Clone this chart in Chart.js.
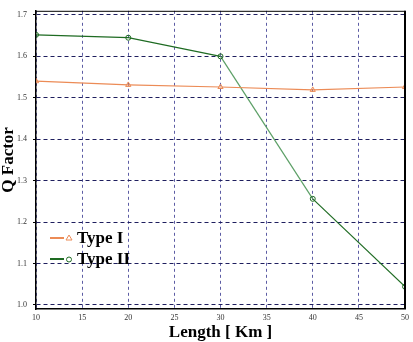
<!DOCTYPE html>
<html>
<head>
<meta charset="utf-8">
<script src="https://cdn.jsdelivr.net/npm/chart.js@4/dist/chart.umd.min.js"></script>
<style>
  html, body { margin: 0; padding: 0; background: #fff; }
  #wrap { width: 413px; height: 342px; }
</style>
</head>
<body>
<div id="wrap"><canvas id="c" width="413" height="342"></canvas></div>
<script>
// data
const lengths = [10, 20, 30, 40, 50];
const typeI = [1.540, 1.531, 1.526, 1.519, 1.526];
const typeII = [1.652, 1.645, 1.600, 1.256, 1.044];
const seriesNames = ['Type I', 'Type II'];
const yTicks = [1.0, 1.1, 1.2, 1.3, 1.4, 1.5, 1.6, 1.7];
const xTicks = [10, 15, 20, 25, 30, 35, 40, 45, 50];

const orange = '#ec8b56';
const green = '#1e6b22';
const greenLight = '#5c9f66';

// frame on top and right, legend inside the plot
const framePlugin = {
  id: 'frame',
  afterDraw(chart) {
    const { ctx, chartArea: a } = chart;
    ctx.save();
    ctx.strokeStyle = '#000';
    ctx.lineWidth = 1;
    ctx.beginPath();
    ctx.moveTo(a.left, a.top + 0.5);
    ctx.lineTo(a.right, a.top + 0.5);
    ctx.stroke();
    ctx.lineWidth = 2;
    ctx.beginPath();
    ctx.moveTo(a.right, a.top);
    ctx.lineTo(a.right, a.bottom);
    ctx.stroke();

    // legend
    chart.data.datasets.forEach((ds, i) => {
      const y = 238 + i * 21;
      ctx.lineWidth = 2;
      ctx.strokeStyle = ds.borderColor;
      ctx.beginPath();
      ctx.moveTo(50, y);
      ctx.lineTo(64, y);
      ctx.stroke();
      ctx.lineWidth = 1;
      ctx.beginPath();
      if (ds.pointStyle === 'triangle') {
        ctx.moveTo(69, y - 3);
        ctx.lineTo(72, y + 2);
        ctx.lineTo(66, y + 2);
        ctx.closePath();
      } else {
        ctx.arc(69, y + 0.5, 2.5, 0, Math.PI * 2);
      }
      ctx.stroke();
      ctx.fillStyle = '#000';
      ctx.font = 'bold 17px "Liberation Serif", serif';
      ctx.textBaseline = 'middle';
      ctx.fillText(ds.label, 77, y + 1);
    });
    ctx.restore();
  }
};

new Chart(document.getElementById('c'), {
  type: 'line',
  data: {
    labels: lengths,
    datasets: [
      {
        label: seriesNames[0],
        data: lengths.map((x, i) => ({ x: x, y: typeI[i] })),
        borderColor: orange,
        backgroundColor: 'transparent',
        borderWidth: 1.2,
        pointStyle: 'triangle',
        pointRadius: 3,
        pointBorderColor: orange,
        pointBorderWidth: 1,
        pointBackgroundColor: 'transparent',
        tension: 0
      },
      {
        label: seriesNames[1],
        data: lengths.map((x, i) => ({ x: x, y: typeII[i] })),
        borderColor: green,
        backgroundColor: 'transparent',
        borderWidth: 1.2,
        pointStyle: 'circle',
        pointRadius: 2.5,
        pointBorderColor: green,
        pointBorderWidth: 1,
        pointBackgroundColor: 'transparent',
        tension: 0,
        segment: {
          borderColor: c => c.p0DataIndex === 2 ? greenLight : green
        }
      }
    ]
  },
  options: {
    responsive: false,
    animation: false,
    layout: { padding: { top: 6, right: 8, left: 0, bottom: 0 } },
    plugins: {
      legend: { display: false },
      tooltip: { enabled: false }
    },
    scales: {
      x: {
        type: 'linear',
        min: 10,
        max: 50,
        afterBuildTicks: s => { s.ticks = xTicks.map(v => ({ value: v })); },
        afterFit: s => { s.height = 33; },
        grid: { color: '#5c5ca4', lineWidth: 1, drawTicks: false },
        border: { display: true, color: '#000', width: 1.5, dash: [3, 3] },
        ticks: {
          padding: 4,
          color: '#333',
          font: { family: '"Liberation Serif", serif', size: 8 },
          maxRotation: 0
        },
        title: {
          display: true,
          text: 'Length [ Km ]',
          color: '#000',
          padding: { top: 0, bottom: 1 },
          font: { family: '"Liberation Serif", serif', size: 17, weight: 'bold', lineHeight: 1 }
        }
      },
      y: {
        min: 0.99,
        max: 1.71,
        afterBuildTicks: s => { s.ticks = yTicks.map(v => ({ value: v })); },
        afterFit: s => { s.width = 36; },
        grid: { color: '#1e1e5e', lineWidth: 1, drawTicks: true, tickLength: 3, tickColor: '#000' },
        border: { display: true, color: '#000', width: 1.5, dash: [4, 3] },
        ticks: {
          padding: 6,
          color: '#333',
          font: { family: '"Liberation Serif", serif', size: 8 },
          callback: v => v.toFixed(1)
        },
        title: {
          display: true,
          text: 'Q Factor',
          color: '#000',
          padding: 0,
          font: { family: '"Liberation Serif", serif', size: 17, weight: 'bold', lineHeight: 1 }
        }
      }
    }
  },
  plugins: [framePlugin]
});
</script>
</body>
</html>
